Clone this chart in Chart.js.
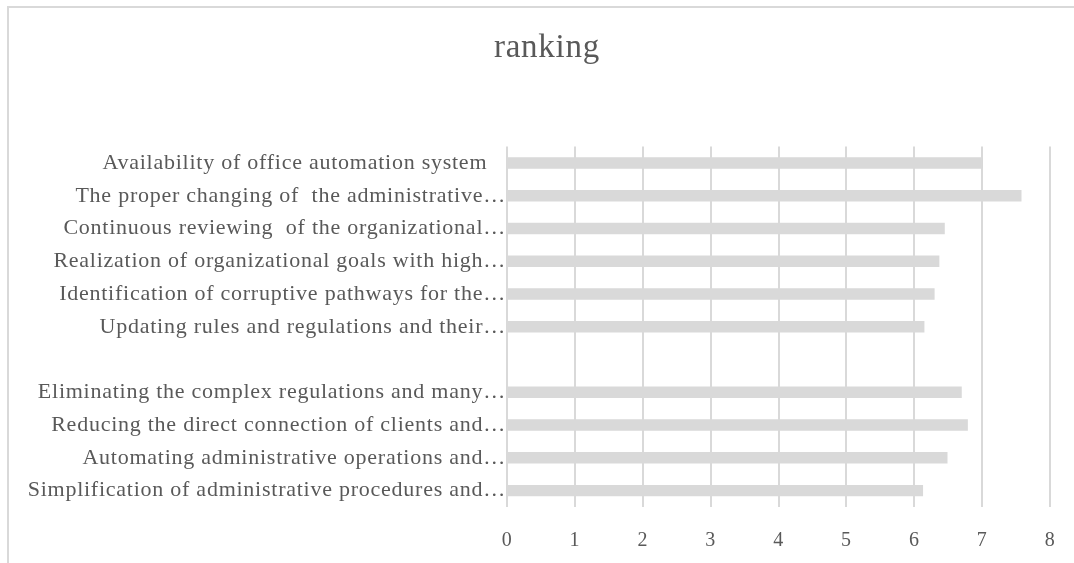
<!DOCTYPE html>
<html>
<head>
<meta charset="utf-8">
<script src="https://cdn.jsdelivr.net/npm/chart.js@4/dist/chart.umd.min.js"></script>
<style>
body { margin: 0; background: #fff; overflow: hidden; }
#box { position: absolute; left: 7px; top: 6px; border: 2px solid #d9d9d9; width: 1076px; height: 560px; }
</style>
</head>
<body>
<div id="box"><canvas id="barChart" width="1076" height="560"></canvas></div>
<script>
// categories top to bottom (one blank row in the original)
var categories = [
  "Availability of office automation system   ",
  "The proper changing of  the administrative\u2026",
  "Continuous reviewing  of the organizational\u2026",
  "Realization of organizational goals with high\u2026",
  "Identification of corruptive pathways for the\u2026",
  "Updating rules and regulations and their\u2026",
  "",
  "Eliminating the complex regulations and many\u2026",
  "Reducing the direct connection of clients and\u2026",
  "Automating administrative operations and\u2026",
  "Simplification of administrative procedures and\u2026"
];
var ranking = [7.0, 7.58, 6.45, 6.37, 6.3, 6.15, null, 6.7, 6.79, 6.49, 6.13];
var xTicks = [0, 1, 2, 3, 4, 5, 6, 7, 8];

var grey = '#595959';
var serif = "'Liberation Serif', 'Times New Roman', serif";

// the original text is slightly letter-spaced
var spacing = {
  id: 'spacing',
  beforeUpdate: function(c) { c.ctx.letterSpacing = '0.75px'; },
  beforeDraw: function(c) { c.ctx.letterSpacing = '0.75px'; }
};

var ctx = document.getElementById("barChart").getContext('2d');
var myBarChart = new Chart(ctx, {
  type: 'bar',
  data: {
    labels: categories,
    datasets: [{
      label: 'ranking',
      data: ranking,
      backgroundColor: '#d9d9d9',
      borderWidth: 0,
      barPercentage: 0.35,
      categoryPercentage: 1
    }]
  },
  plugins: [spacing],
  options: {
    indexAxis: 'y',
    responsive: false,
    animation: false,
    layout: { padding: 0 },
    plugins: {
      legend: { display: false },
      tooltip: { enabled: false },
      title: {
        display: true,
        text: 'ranking',
        color: grey,
        font: { family: serif, size: 33, weight: 'normal' },
        padding: { top: 21, bottom: 78 }
      }
    },
    scales: {
      x: {
        min: xTicks[0],
        max: xTicks[xTicks.length - 1],
        afterBuildTicks: function(s) { s.ticks = xTicks.map(function(v) { return { value: v }; }); },
        ticks: { color: grey, padding: 22, font: { family: serif, size: 20 } },
        grid: { color: '#d9d9d9', lineWidth: 2, drawTicks: false },
        border: { display: false },
        afterFit: function(s) { s.height = 61; }
      },
      y: {
        ticks: { color: grey, padding: 1, font: { family: serif, size: 22 } },
        grid: { display: false, drawTicks: false },
        border: { display: false },
        afterFit: function(s) { s.width = 498; }
      },
      // empty strip on the right so the plot stops short of the frame
      side: {
        type: 'category',
        position: 'right',
        ticks: { display: false },
        grid: { display: false, drawTicks: false },
        border: { display: false },
        afterFit: function(s) { s.width = 35; }
      }
    }
  }
});
</script>
</body>
</html>
